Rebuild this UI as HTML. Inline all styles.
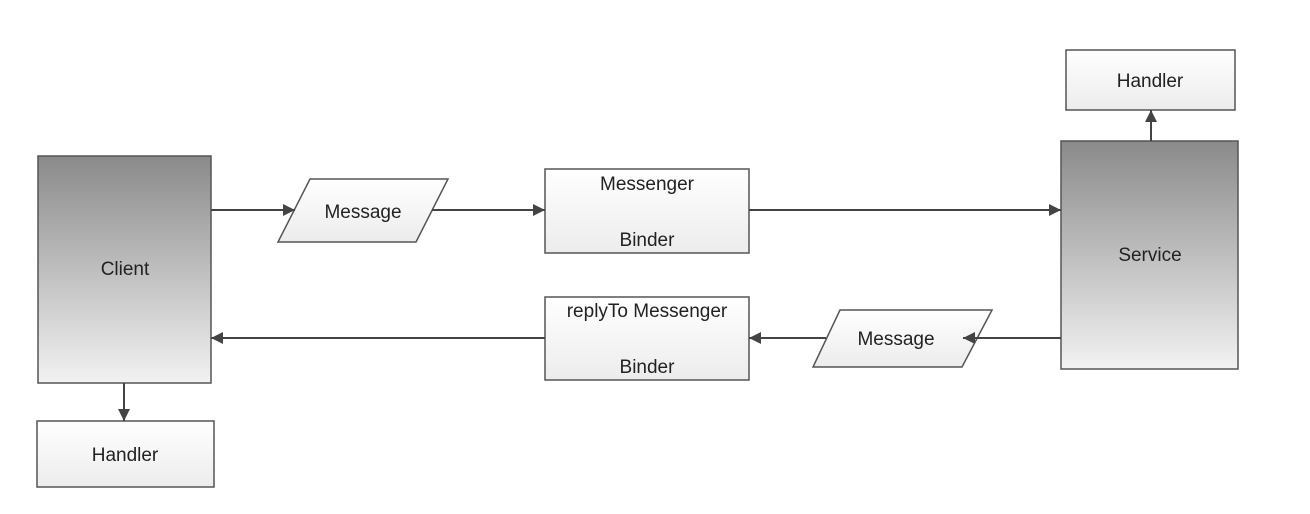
<!DOCTYPE html>
<html><head><style>html,body{margin:0;padding:0;background:#fff;}svg{display:block}</style></head>
<body>
<svg width="1310" height="514" viewBox="0 0 1310 514" xmlns="http://www.w3.org/2000/svg" font-family="'Liberation Sans', sans-serif" font-size="19" fill="#222">
<defs>
<linearGradient id="dark" x1="0" y1="0" x2="0" y2="1"><stop offset="0" stop-color="#8a8a8a"/><stop offset="1" stop-color="#f2f2f2"/></linearGradient>
<linearGradient id="light" x1="0" y1="0" x2="0" y2="1"><stop offset="0" stop-color="#ffffff"/><stop offset="1" stop-color="#ececec"/></linearGradient>
<marker id="a" viewBox="0 0 10 10" refX="10" refY="5" markerWidth="12" markerHeight="12" markerUnits="userSpaceOnUse" orient="auto"><path d="M0,0 L10,5 L0,10 z" fill="#444"/></marker>
</defs>
<g stroke="#555" stroke-width="1.5">
<rect x="38" y="156" width="173" height="227" fill="url(#dark)"/>
<rect x="37" y="421" width="177" height="66" fill="url(#light)"/>
<rect x="1061" y="141" width="177" height="228" fill="url(#dark)"/>
<rect x="1066" y="50" width="169" height="60" fill="url(#light)"/>
<polygon points="310,179 448,179 416,242 278,242" fill="url(#light)"/>
<rect x="545" y="169" width="204" height="84" fill="url(#light)"/>
<rect x="545" y="297" width="204" height="83" fill="url(#light)"/>
<polygon points="840,310 992,310 962,367 813,367" fill="url(#light)"/>
</g>
<g stroke="#444" stroke-width="2" fill="none">
<line x1="211" y1="210" x2="295" y2="210" marker-end="url(#a)"/>
<line x1="432" y1="210" x2="545" y2="210" marker-end="url(#a)"/>
<line x1="749" y1="210" x2="1061" y2="210" marker-end="url(#a)"/>
<line x1="1151" y1="141" x2="1151" y2="110" marker-end="url(#a)"/>
<line x1="1061" y1="338" x2="963" y2="338" marker-end="url(#a)"/>
<line x1="826" y1="338" x2="749" y2="338" marker-end="url(#a)"/>
<line x1="545" y1="338" x2="211" y2="338" marker-end="url(#a)"/>
<line x1="124" y1="383" x2="124" y2="421" marker-end="url(#a)"/>
</g>
<g text-anchor="middle">
<text x="125" y="275">Client</text>
<text x="125" y="461">Handler</text>
<text x="1150" y="261">Service</text>
<text x="1150" y="87">Handler</text>
<text x="363" y="218">Message</text>
<text x="647" y="190">Messenger</text>
<text x="647" y="246">Binder</text>
<text x="647" y="317">replyTo  Messenger</text>
<text x="647" y="373">Binder</text>
<text x="896" y="345">Message</text>
</g>
</svg>
</body></html>
